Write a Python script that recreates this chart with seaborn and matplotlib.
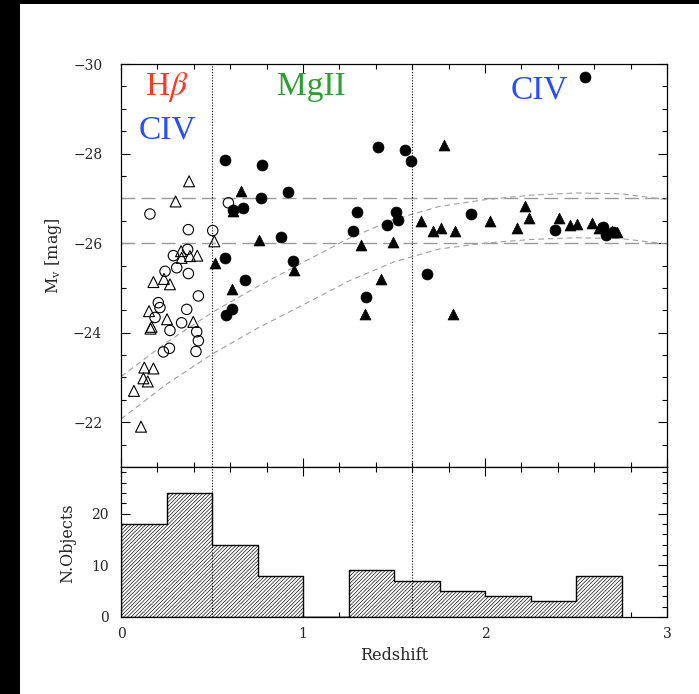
import numpy as np
import pandas as pd
import matplotlib
matplotlib.use("Agg")
import matplotlib.pyplot as plt
import seaborn as sns
from matplotlib.patches import Rectangle
from matplotlib.ticker import MultipleLocator

# ---------------------------------------------------------------- data
# low-redshift sample, open circles
lowz_circ_z = [0.159, 0.370, 0.504, 0.590, 0.366, 0.288, 0.306, 0.242, 0.370, 0.425,
               0.205, 0.214, 0.187, 0.361, 0.333, 0.269, 0.416, 0.425, 0.233, 0.266, 0.412]
lowz_circ_m = [-26.65, -26.30, -26.28, -26.90, -25.86, -25.72, -25.45, -25.37, -25.32, -24.82,
               -24.67, -24.56, -24.34, -24.52, -24.22, -24.05, -24.02, -23.82, -23.57, -23.65, -23.58]

# low-redshift sample, open triangles
lowz_tri_z = [0.374, 0.300, 0.513, 0.330, 0.379, 0.419, 0.333, 0.178, 0.236, 0.269,
              0.154, 0.253, 0.168, 0.162, 0.397, 0.128, 0.178, 0.123, 0.147, 0.071, 0.110]
lowz_tri_m = [-27.38, -26.93, -26.04, -25.82, -25.71, -25.72, -25.67, -25.13, -25.20, -25.08,
              -24.48, -24.30, -24.13, -24.09, -24.24, -23.22, -23.20, -22.98, -22.91, -22.70, -21.90]

# high-redshift sample, filled circles
hiz_circ_z = [0.571, 0.773, 0.769, 0.916, 0.617, 0.668, 0.877, 0.571, 0.943, 0.681,
              0.608, 0.577, 2.549, 1.414, 1.560, 1.593, 1.295, 1.511, 1.277, 1.463,
              1.520, 1.921, 1.683, 1.344, 2.386, 2.647, 2.665, 2.701]
hiz_circ_m = [-27.86, -27.74, -27.01, -27.14, -26.75, -26.79, -26.14, -25.66, -25.60, -25.17,
              -24.52, -24.39, -29.72, -28.14, -28.07, -27.84, -26.69, -26.70, -26.27, -26.40,
              -26.51, -26.64, -25.32, -24.80, -26.29, -26.35, -26.19, -26.25]

# high-redshift sample, filled triangles
hiz_tri_z = [0.657, 0.617, 0.758, 0.518, 0.951, 0.612, 1.777, 1.319, 1.496, 1.429,
             1.342, 1.826, 1.648, 1.712, 1.756, 1.837, 2.027, 2.220, 2.240, 2.174,
             2.407, 2.467, 2.504, 2.590, 2.629, 2.728, 2.697]
hiz_tri_m = [-27.16, -26.71, -26.08, -25.56, -25.41, -24.98, -28.18, -25.95, -26.02, -25.19,
             -24.41, -24.41, -26.49, -26.27, -26.34, -26.28, -26.50, -26.82, -26.56, -26.34,
             -26.55, -26.41, -26.43, -26.44, -26.33, -26.25, -26.27]

# flux-limit tracks
limit_z = [0.0, 0.25, 0.5, 0.75, 1.0, 1.25, 1.5, 1.75, 2.0, 2.25, 2.5, 2.75, 3.0]
limit_bright_m = [-23.02, -23.78, -24.45, -25.03, -25.57, -26.10, -26.53, -26.82,
                  -26.97, -27.07, -27.12, -27.10, -26.97]
limit_faint_m = [-22.07, -22.85, -23.52, -24.10, -24.62, -25.15, -25.58, -25.87,
                 -26.00, -26.08, -26.12, -26.10, -25.98]

# luminosity cuts and line-transition redshifts
mag_cuts = [-27.0, -26.0]
z_breaks = [0.5, 1.6]

# redshift histogram
hist_edges = [0.0, 0.25, 0.5, 0.75, 1.0, 1.25, 1.5, 1.75, 2.0, 2.25, 2.5, 2.75]
hist_counts = [18, 24, 14, 8, 0, 9, 7, 5, 4, 3, 8]

# emission-line labels
line_labels = [r"H$\beta$", "CIV", "MgII", "CIV"]
line_label_z = [0.25, 0.255, 1.045, 2.30]
line_label_m = [-29.49, -28.52, -29.49, -29.41]
line_label_colors = ["#ff3a22", "#2a4cff", "#2e9e32", "#2a4cff"]

# ---------------------------------------------------------------- style
sns.set_style("ticks")
plt.rcParams["font.family"] = ["DejaVu Serif"]
plt.rcParams["mathtext.fontset"] = "stix"
plt.rcParams["hatch.linewidth"] = 0.45
plt.rcParams["axes.linewidth"] = 0.9

W, H = 699, 694
fig = plt.figure(figsize=(W / 100, H / 100), dpi=100)
fig.patch.set_facecolor("white")

x0, x1 = 121 / W, 667 / W
ax = fig.add_axes([x0, 1 - 467 / H, x1 - x0, (467 - 64) / H])
axh = fig.add_axes([x0, 1 - 617 / H, x1 - x0, (617 - 467) / H], sharex=ax)

# ---------------------------------------------------------------- top panel
for m in mag_cuts:
    ax.axhline(m, color="#9a9a9a", lw=1.0, ls=(0, (10, 4.5)), zorder=1)

sns.lineplot(x=limit_z, y=limit_bright_m, ax=ax, color="#a0a0a0", lw=0.8,
             linestyle=(0, (5, 3.5)), sort=False, estimator=None, zorder=1)
sns.lineplot(x=limit_z, y=limit_faint_m, ax=ax, color="#a0a0a0", lw=0.8,
             linestyle=(0, (5, 3.5)), sort=False, estimator=None, zorder=1)

sns.scatterplot(x=lowz_tri_z, y=lowz_tri_m, ax=ax, marker="^", s=62,
                facecolors="none", edgecolor="black", linewidth=0.8, zorder=3)
sns.scatterplot(x=lowz_circ_z, y=lowz_circ_m, ax=ax, marker="o", s=56,
                facecolors="none", edgecolor="black", linewidth=0.8, zorder=3)
sns.scatterplot(x=hiz_tri_z, y=hiz_tri_m, ax=ax, marker="^", s=62,
                color="black", edgecolor="black", linewidth=0.5, zorder=4)
sns.scatterplot(x=hiz_circ_z, y=hiz_circ_m, ax=ax, marker="o", s=62,
                color="black", edgecolor="black", linewidth=0.5, zorder=4)

for txt, zx, my, c in zip(line_labels, line_label_z, line_label_m, line_label_colors):
    ax.text(zx, my, txt, color=c, fontsize=24, family=["Liberation Serif"],
            ha="center", va="center", zorder=5)

ax.set_xlim(0, 3)
ax.set_ylim(-21, -30)
ax.yaxis.set_major_locator(MultipleLocator(2))
ax.yaxis.set_minor_locator(MultipleLocator(0.5))
ax.set_xlabel("")
ax.set_ylabel("")
ax.tick_params(axis="x", labelbottom=False)
ax.tick_params(axis="y", pad=13.5)

# ---------------------------------------------------------------- histogram
sns.histplot(x=np.array(hist_edges[:-1]) + 0.125, weights=hist_counts, bins=hist_edges,
             element="step", fill=True, facecolor="white", edgecolor="black",
             hatch="/////////", linewidth=1.0, ax=axh)
axh.set_ylim(0, 29)
axh.yaxis.set_major_locator(MultipleLocator(10))
axh.yaxis.set_minor_locator(MultipleLocator(2))
axh.xaxis.set_major_locator(MultipleLocator(1))
axh.xaxis.set_minor_locator(MultipleLocator(0.2))
axh.set_xlabel("")
axh.set_ylabel("")
axh.tick_params(axis="y", pad=9)
axh.tick_params(axis="x", pad=7)

for a in (ax, axh):
    for zb in z_breaks:
        a.axvline(zb, color="black", lw=0.8, ls=(0, (1, 1.5)), zorder=2)
    a.tick_params(which="both", direction="in", top=True, right=True,
                  color="black", width=0.8, labelsize=10)
    a.tick_params(which="major", length=6.5)
    a.tick_params(which="minor", length=3.6)
    for s in a.spines.values():
        s.set_visible(True)
        s.set_color("black")

# ---------------------------------------------------------------- axis titles
fig.text(54 / W, 1 - 256 / H, r"M$_\mathregular{v}$ [mag]", rotation=90,
         ha="center", va="center", fontsize=11.5)
fig.text(68 / W, 1 - 543 / H, "N.Objects", rotation=90,
         ha="center", va="center", fontsize=11.5)
fig.text(394 / W, 1 - 656 / H, "Redshift", ha="center", va="center", fontsize=11.5)

# dark frame on the left and top edges
fig.add_artist(Rectangle((0, 0), 20 / W, 1, transform=fig.transFigure,
                         facecolor="black", edgecolor="none", zorder=10))
fig.add_artist(Rectangle((0, 1 - 4 / H), 1, 4 / H, transform=fig.transFigure,
                         facecolor="black", edgecolor="none", zorder=10))

fig.savefig("out.png", dpi=100, facecolor="white")
